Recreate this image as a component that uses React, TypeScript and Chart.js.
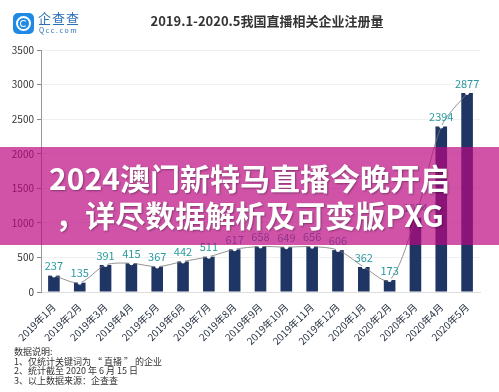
import React, { useEffect, useRef } from "react";
import { Chart, registerables } from "chart.js";

Chart.register(...registerables);

const categories = [
  "2019年1月", "2019年2月", "2019年3月", "2019年4月", "2019年5月", "2019年6月",
  "2019年7月", "2019年8月", "2019年9月", "2019年10月", "2019年11月", "2019年12月",
  "2020年1月", "2020年2月", "2020年3月", "2020年4月", "2020年5月",
];
const registrations = [237, 135, 391, 415, 367, 442, 511, 617, 658, 649, 656, 606, 362, 173, 1074, 2394, 2877];
const yTicks = [0, 500, 1000, 1500, 2000, 2500, 3000, 3500];
const titleText = "2019.1-2020.5我国直播相关企业注册量";
const notes = ["数据说明:", "1、仅统计关键词为 “ 直播 ” 的企业", "2、统计截至 2020 年 6 月 15 日", "3、以上数据来源：企查查"];
const bannerLines = ["2024澳门新特马直播今晚开启", "，详尽数据解析及可变版PXG"];

const FONT = "'Noto Sans CJK SC', 'Noto Sans', sans-serif";

const valueLabels = {
  id: "valueLabels",
  afterDatasetsDraw(chart: any) {
    const ctx = chart.ctx;
    const meta = chart.getDatasetMeta(0);
    ctx.save();
    ctx.font = `11px ${FONT}`;
    ctx.fillStyle = "#2a9aa0";
    ctx.textAlign = "center";
    ctx.textBaseline = "bottom";
    meta.data.forEach((bar: any, i: number) => {
      ctx.fillText(String(registrations[i]), bar.x, bar.y - 4);
    });
    ctx.restore();
  },
};

export default function App() {
  const ref = useRef<HTMLCanvasElement>(null);
  useEffect(() => {
    if (!ref.current) return;
    const chart = new Chart(ref.current, {
      type: "bar",
      data: {
        labels: categories,
        datasets: [
          {
            type: "bar",
            data: registrations,
            backgroundColor: "#1f3564",
            barPercentage: 0.45,
            categoryPercentage: 1,
            order: 2,
          },
          {
            type: "line",
            data: registrations,
            borderColor: "#777",
            borderWidth: 0.8,
            tension: 0.3,
            pointRadius: 2,
            pointBackgroundColor: "#ffffff",
            pointBorderWidth: 0,
            order: 1,
          } as any,
        ],
      },
      options: {
        responsive: false,
        animation: false,
        layout: { padding: { left: 0, right: 19, top: 50, bottom: 0 } },
        plugins: { legend: { display: false }, tooltip: { enabled: false }, title: { display: false } },
        scales: {
          x: {
            grid: { display: false, drawTicks: true },
            border: { color: "#dddddd" },
            ticks: {
              color: "#1f2a3a",
              font: { size: 10, family: FONT },
              maxRotation: 45,
              minRotation: 45,
              autoSkip: false,
              padding: 1,
            },
            afterFit: (s: any) => { s.height = 100; },
          },
          y: {
            min: 0,
            max: 3500,
            afterBuildTicks: (s: any) => { s.ticks = yTicks.map((v) => ({ value: v })); },
            ticks: { color: "#333", font: { size: 10, family: FONT }, padding: 3, callback: (v: any) => String(v) },
            grid: { color: "#f0f0f0", tickLength: 4, tickColor: "#888" } as any,
            border: { color: "#999" },
            afterFit: (s: any) => { s.width = 41; },
          },
        },
      },
      plugins: [valueLabels],
    });
    return () => chart.destroy();
  }, []);

  return (
    <div style={{ position: "absolute", left: 0, top: 0, width: 499, height: 392, background: "#fff", overflow: "hidden", fontFamily: FONT }}>
      <canvas ref={ref} width={499} height={392} style={{ position: "absolute", left: 0, top: 0 }} />
      {/* logo */}
      <div style={{ position: "absolute", left: 13, top: 13, width: 21, height: 21, borderRadius: 5, background: "#1e8ae6" }}>
        <div style={{ position: "absolute", left: 3, top: 3, width: 11, height: 11, border: "2px solid #fff", borderRadius: "50%" }} />
        <div style={{ position: "absolute", left: 7, top: 7, width: 5, height: 5, border: "1.5px solid #fff", borderRadius: "50%", borderRight: "1.5px solid transparent" }} />
      </div>
      <div style={{ position: "absolute", left: 38, top: 10, fontSize: 13, color: "#2c6fb5", letterSpacing: 1, lineHeight: "15px" }}>企查查</div>
      <div style={{ position: "absolute", left: 39, top: 26, fontSize: 7, color: "#2c6fb5", letterSpacing: 1.6, lineHeight: "8px" }}>Qcc.com</div>
      {/* title */}
      <div style={{ position: "absolute", left: 0, width: 534, top: 11, textAlign: "center", fontSize: 13, fontWeight: "bold", color: "#333" }}>{titleText}</div>
      {/* notes */}
      <div style={{ position: "absolute", left: 14, top: 347, fontSize: 9, color: "#333", lineHeight: "9.6px" }}>
        {notes.map((n) => (<div key={n}>{n}</div>))}
      </div>
      {/* banner */}
      <div style={{ position: "absolute", left: 0, top: 147, width: 499, height: 98, background: "rgba(187,6,129,0.69)" }} />
      <div style={{ position: "absolute", left: 0, top: 159, width: 499, textAlign: "center", fontSize: 30, fontWeight: "bold", color: "#fff", lineHeight: "37px", textShadow: "1px 1px 2px rgba(0,0,0,0.35)" }}>
        {bannerLines.map((l) => (<div key={l}>{l}</div>))}
      </div>
    </div>
  );
}
